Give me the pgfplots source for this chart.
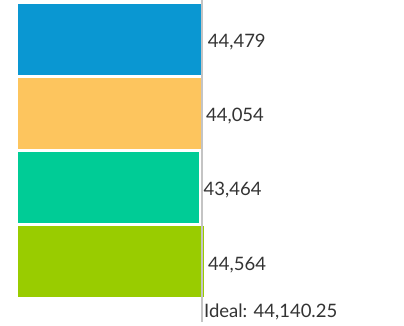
\documentclass[border=0pt]{standalone}
\usepackage{pgfplots}
\pgfplotsset{compat=1.18}
\usepackage{fontspec}
\setmainfont{Lato}
\definecolor{cblue}{HTML}{0A97D2}
\definecolor{corange}{HTML}{FDC55E}
\definecolor{cteal}{HTML}{00CC96}
\definecolor{clime}{HTML}{99CC00}
\definecolor{cline}{HTML}{C4C4C4}
\definecolor{ctext}{HTML}{333333}
\begin{document}
\begin{tikzpicture}
\begin{axis}[
  scale only axis,
  width=404pt, height=326pt,
  xmin=-4320, xmax=92640,
  ymin=0, ymax=326, y dir=reverse,
  axis lines=none, ticks=none,
  clip=false,
  barstyle/.style={xbar, bar width=71, bar shift=0pt, draw=none,
    nodes near coords, point meta=explicit symbolic,
    every node near coord/.append style={font=\fontsize{18.5}{21}\selectfont, text=ctext, anchor=west, xshift=1pt, yshift=-3pt}},
]
\path[use as bounding box] (rel axis cs:0,0) rectangle (rel axis cs:1,1);
\addplot[barstyle, fill=cblue] coordinates {(44479,39.5) [44,479]};
\addplot[barstyle, fill=corange] coordinates {(44054,113.5) [44,054]};
\addplot[barstyle, fill=cteal] coordinates {(43464,187.5) [43,464]};
\addplot[barstyle, fill=clime] coordinates {(44564,262) [44,564]};
\addplot[draw=cline, line width=1.3pt, mark=none] coordinates {(44140.25,0) (44140.25,322)};
\node[anchor=west, font=\fontsize{18.5}{21}\selectfont, text=ctext, inner sep=2pt] at (axis cs:44140.25,312) {Ideal: 44,140.25};
\end{axis}
\end{tikzpicture}
\end{document}
